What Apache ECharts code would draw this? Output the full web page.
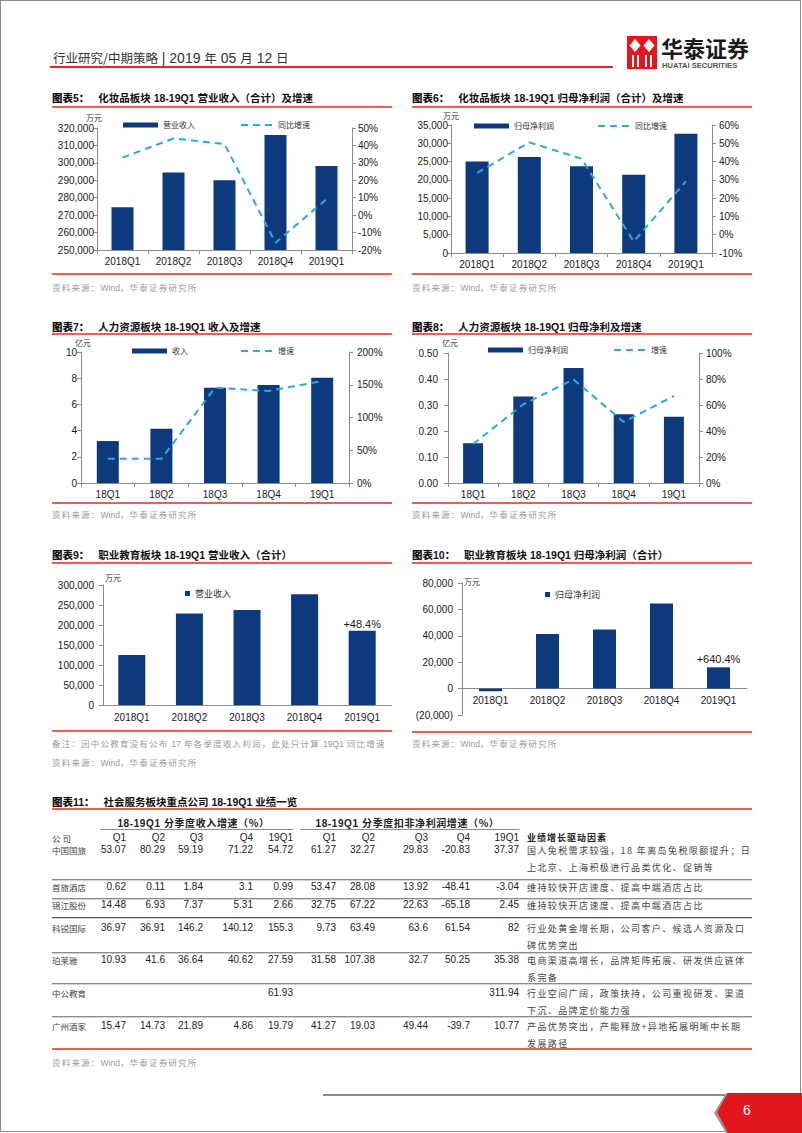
<!DOCTYPE html>
<html lang="zh-CN">
<head>
<meta charset="utf-8">
<title>社会服务板块 18-19Q1 业绩</title>
<script src="https://cdn.jsdelivr.net/npm/echarts@6.0.0/dist/echarts.min.js"></script>
<style>
  html, body { margin: 0; padding: 0; background: #fff; }
  body { position: relative; width: 802px; height: 1133px; overflow: hidden;
         font-family: 'Liberation Sans', 'Noto Sans CJK SC', sans-serif; color: #222; }
  .abs { position: absolute; white-space: nowrap; }
  .cjk { font-family: 'Noto Sans CJK SC', sans-serif; }
  .ttl { position: absolute; font-size: 10.5px; font-weight: bold; line-height: 14px; white-space: nowrap; color: #111; }
  .ttl b { margin-right: 6px; }
  .rule { position: absolute; height: 1.5px; background: #e8604f; }
  .src { position: absolute; font-family: 'Noto Sans CJK SC', sans-serif; font-size: 8.5px; line-height: 10px;
         color: #9a9a9a; letter-spacing: 1.2px; white-space: nowrap; }
  .src span { font-family: 'Liberation Sans', sans-serif; letter-spacing: 0; }
  .chart { position: absolute; }
</style>
</head>
<body>

<!-- 页面边框 -->
<div class="abs" style="left:0;top:0;width:801px;height:1132px;border:1px solid #8c8c8c;box-sizing:border-box"></div>

<!-- 页眉 -->
<div class="abs" style="left:53px;top:50px;font-size:14px;line-height:16px;color:#333">
  <span class="cjk" style="font-size:12.5px">行业研究/中期策略</span> | 2019 <span class="cjk" style="font-size:12.5px">年</span> 05 <span class="cjk" style="font-size:12.5px">月</span> 12 <span class="cjk" style="font-size:12.5px">日</span>
</div>
<div class="abs" style="left:50px;top:66px;width:563px;height:2px;background:#e3262a"></div>
<svg class="abs" style="left:627px;top:36px" width="30" height="33" viewBox="0 0 30 33">
  <rect width="30" height="33" fill="#e3161e"/>
  <path d="M8 3 L13.5 9.5 L8 16 L2.5 9.5Z" fill="#fff"/>
  <path d="M22 3 L27.5 9.5 L22 16 L16.5 9.5Z" fill="#fff"/>
  <rect x="5" y="19" width="2" height="12" fill="#fff"/>
  <rect x="10" y="19" width="2" height="12" fill="#fff"/>
  <rect x="18" y="19" width="2" height="12" fill="#fff"/>
  <rect x="23" y="19" width="2" height="12" fill="#fff"/>
</svg>
<div class="abs cjk" style="left:661px;top:36px;font-size:22px;line-height:22px;font-weight:bold;color:#1a1a1a">华泰证券</div>
<div class="abs" style="left:662px;top:61px;font-size:7.6px;line-height:9px;font-weight:bold;color:#555">HUATAI SECURITIES</div>

<!-- 图表标题 -->
<div class="ttl" style="left:52px;top:91px"><b>图表5：</b> 化妆品板块 18-19Q1 营业收入（合计）及增速</div>
<div class="ttl" style="left:412px;top:91px"><b>图表6：</b> 化妆品板块 18-19Q1 归母净利润（合计）及增速</div>
<div class="ttl" style="left:52px;top:320px"><b>图表7：</b> 人力资源板块 18-19Q1 收入及增速</div>
<div class="ttl" style="left:412px;top:320px"><b>图表8：</b> 人力资源板块 18-19Q1 归母净利及增速</div>
<div class="ttl" style="left:52px;top:548px"><b>图表9：</b> 职业教育板块 18-19Q1 营业收入（合计）</div>
<div class="ttl" style="left:412px;top:548px"><b>图表10：</b> 职业教育板块 18-19Q1 归母净利润（合计）</div>
<div class="ttl" style="left:52px;top:795px"><b>图表11：</b> 社会服务板块重点公司 18-19Q1 业绩一览</div>

<div class="rule" style="left:52px;top:106px;width:340px"></div>
<div class="rule" style="left:412px;top:106px;width:340px"></div>
<div class="rule" style="left:52px;top:273px;width:340px"></div>
<div class="rule" style="left:412px;top:273px;width:340px"></div>
<div class="rule" style="left:52px;top:333px;width:340px"></div>
<div class="rule" style="left:412px;top:333px;width:340px"></div>
<div class="rule" style="left:52px;top:502px;width:340px"></div>
<div class="rule" style="left:412px;top:502px;width:340px"></div>
<div class="rule" style="left:52px;top:562px;width:340px"></div>
<div class="rule" style="left:412px;top:562px;width:340px"></div>
<div class="rule" style="left:52px;top:730px;width:340px"></div>
<div class="rule" style="left:412px;top:731px;width:340px"></div>
<div class="rule" style="left:52px;top:808px;width:700px"></div>
<div class="rule" style="left:52px;top:1048px;width:700px"></div>

<div class="src" style="left:52px;top:282px">资料来源：<span>Wind</span>，华泰证券研究所</div>
<div class="src" style="left:412px;top:282px">资料来源：<span>Wind</span>，华泰证券研究所</div>
<div class="src" style="left:52px;top:509px">资料来源：<span>Wind</span>，华泰证券研究所</div>
<div class="src" style="left:412px;top:509px">资料来源：<span>Wind</span>，华泰证券研究所</div>
<div class="src" style="left:52px;top:738px">备注：因中公教育没有公布 <span>17</span> 年各季度收入利润，此处只计算 <span>19Q1</span> 同比增速</div>
<div class="src" style="left:52px;top:757px">资料来源：<span>Wind</span>，华泰证券研究所</div>
<div class="src" style="left:412px;top:738px">资料来源：<span>Wind</span>，华泰证券研究所</div>
<div class="src" style="left:52px;top:1057px">资料来源：<span>Wind</span>，华泰证券研究所</div>

<!-- 图表容器 -->
<div class="chart" id="chart5" style="left:40px;top:110px;width:360px;height:160px"></div>
<div class="chart" id="chart6" style="left:400px;top:110px;width:400px;height:160px"></div>
<div class="chart" id="chart7" style="left:40px;top:336px;width:360px;height:165px"></div>
<div class="chart" id="chart8" style="left:400px;top:336px;width:400px;height:165px"></div>
<div class="chart" id="chart9" style="left:40px;top:565px;width:360px;height:165px"></div>
<div class="chart" id="chart10" style="left:400px;top:565px;width:400px;height:165px"></div>

<!-- 页脚 -->
<div class="abs" style="left:323px;top:1094px;width:402px;height:2px;background:#8a8a8a"></div>
<div class="abs" style="left:712px;top:1093px;width:90px;height:40px;background:#9a9a9a;clip-path:polygon(14px 0,90px 0,90px 40px,14px 40px,2px 20px)"></div>
<div class="abs" style="left:716px;top:1093px;width:86px;height:40px;background:#e3161e;clip-path:polygon(12px 0,86px 0,86px 40px,12px 40px,1px 19px)"></div>
<div class="abs" style="left:743px;top:1101px;font-size:14px;line-height:18px;color:#fff">6</div>

<script>
// ---------------- 数据 ----------------
// 图表5/6 化妆品板块
const cosmeticQuarters = ['2018Q1', '2018Q2', '2018Q3', '2018Q4', '2019Q1']
const cosmeticRevenue = [274500, 294400, 290000, 316000, 298200] // 万元
const cosmeticRevenueGrowth = [33.0, 44.0, 40.8, -15.8, 9.1] // %
const cosmeticProfit = [25050, 26250, 23700, 21400, 32600] // 万元
const cosmeticProfitGrowth = [33.8, 50.5, 41.6, -3.7, 29.2] // %

// 图表7/8 人力资源板块
const hrQuarters = ['18Q1', '18Q2', '18Q3', '18Q4', '19Q1']
const hrRevenue = [3.2, 4.15, 7.27, 7.48, 8.04] // 亿元
const hrRevenueGrowth = [37, 37, 145.5, 140.5, 155.7] // %
const hrProfit = [0.153, 0.333, 0.442, 0.264, 0.255] // 亿元
const hrProfitGrowth = [30, 60.5, 79.7, 47, 67] // %

// 图表9/10 职业教育板块
const eduQuarters = ['2018Q1', '2018Q2', '2018Q3', '2018Q4', '2019Q1']
const eduRevenue = [125000, 229000, 237500, 276700, 185800] // 万元
const eduRevenueNote = '+48.4%'
const eduProfit = [-2000, 41400, 44700, 64400, 16100] // 万元
const eduProfitNote = '+640.4%'

// 坐标轴刻度 [min, max, interval]
const cosmeticRevenueTicks = [250000, 320000, 10000]
const cosmeticRevenueGrowthTicks = [-20, 50, 10]
const cosmeticProfitTicks = [0, 35000, 5000]
const cosmeticProfitGrowthTicks = [-10, 60, 10]
const hrRevenueTicks = [0, 10, 2]
const hrRevenueGrowthTicks = [0, 200, 50]
const hrProfitTicks = [0, 0.5, 0.1]
const hrProfitGrowthTicks = [0, 100, 20]
const eduRevenueTicks = [0, 300000, 50000]
const eduProfitTicks = [-20000, 80000, 20000]

// 图表11 重点公司
const companies = ['中国国旅', '首旅酒店', '锦江股份', '科锐国际', '珀莱雅', '中公教育', '广州酒家']
const quarterHeads = ['Q1', 'Q2', 'Q3', 'Q4', '19Q1']
const revGrowth = [
  [53.07, 80.29, 59.19, 71.22, 54.72],
  [0.62, 0.11, 1.84, 3.1, 0.99],
  [14.48, 6.93, 7.37, 5.31, 2.66],
  [36.97, 36.91, 146.2, 140.12, 155.3],
  [10.93, 41.6, 36.64, 40.62, 27.59],
  [null, null, null, null, 61.93],
  [15.47, 14.73, 21.89, 4.86, 19.79]
]
const profitGrowth = [
  [61.27, 32.27, 29.83, -20.83, 37.37],
  [53.47, 28.08, 13.92, -48.41, -3.04],
  [32.75, 67.22, 22.63, -65.18, 2.45],
  [9.73, 63.49, 63.6, 61.54, 82],
  [31.58, 107.38, 32.7, 50.25, 35.38],
  [null, null, null, null, 311.94],
  [41.27, 19.03, 49.44, -39.7, 10.77]
]
const drivers = [
  ['国人免税需求较强，18 年离岛免税限额提升；日', '上北京、上海积极进行品类优化、促销等'],
  ['维持较快开店速度、提高中端酒店占比'],
  ['维持较快开店速度、提高中端酒店占比'],
  ['行业处黄金增长期，公司客户、候选人资源及口', '碑优势突出'],
  ['电商渠道高增长，品牌矩阵拓展、研发供应链体', '系完备'],
  ['行业空间广阔，政策扶持，公司重视研发、渠道', '下沉、品牌定价能力强'],
  ['产品优势突出，产能释放+异地拓展明晰中长期', '发展路径']
]

// ---------------- 样式常量 ----------------
const NUM_FONT = 'Liberation Sans'
const CJK_FONT = 'Noto Sans CJK SC'
const BAR_COLOR = '#0c3a7d'
const LINE_COLOR = '#2ea7df'
const AXIS_COLOR = '#8c8c8c'
const LABEL_COLOR = '#1a1a1a'

// 千分位，负数用括号
function thousands (v) {
  const s = String(Math.abs(v)).replace(/\B(?=(\d{3})+(?!\d))/g, ',')
  return v < 0 ? '(' + s + ')' : s
}

function valueAxis (ticks, formatter, margin) {
  return {
    type: 'value',
    min: ticks[0],
    max: ticks[1],
    interval: ticks[2],
    splitLine: { show: false },
    axisLine: { show: true, lineStyle: { color: AXIS_COLOR } },
    axisTick: { show: true, length: 4, lineStyle: { color: AXIS_COLOR } },
    axisLabel: { margin: margin, formatter: formatter, fontFamily: NUM_FONT, fontSize: 10, color: LABEL_COLOR }
  }
}

function unitText (text, pos) {
  return {
    type: 'text',
    left: pos[0],
    top: pos[1],
    style: { text: text, fontFamily: CJK_FONT, fontSize: 8, fill: '#333' }
  }
}

// 柱 + 虚线双轴图
function dualChart (id, cfg) {
  const chart = echarts.init(document.getElementById(id), null, { renderer: 'svg' })
  const legendText = { fontFamily: CJK_FONT, fontSize: 8, color: '#333' }
  chart.setOption({
    animation: false,
    grid: { left: cfg.grid[0], right: cfg.grid[1], top: cfg.grid[2], bottom: cfg.grid[3], containLabel: false, outerBoundsMode: 'none' },
    legend: [
      { data: [cfg.barName], left: cfg.legend[0], top: cfg.legend[2], padding: 0, icon: 'rect', itemWidth: 35, itemHeight: 5, textStyle: legendText },
      {
        // 图例只画虚线，不画圆点
        data: [{
          name: cfg.lineName,
          lineStyle: { type: [7, 5], width: 2, color: LINE_COLOR },
          itemStyle: { color: 'rgba(0,0,0,0)', borderWidth: 0 }
        }],
        left: cfg.legend[1], top: cfg.legend[2], padding: 0, itemWidth: 32, itemHeight: 5, textStyle: legendText
      }
    ],
    xAxis: {
      type: 'category',
      data: cfg.categories,
      axisLine: { onZero: false, lineStyle: { color: AXIS_COLOR } },
      axisTick: { show: true, length: 4, lineStyle: { color: AXIS_COLOR } },
      axisLabel: { margin: 6, fontFamily: NUM_FONT, fontSize: 10, color: LABEL_COLOR }
    },
    yAxis: [
      valueAxis(cfg.leftTicks, cfg.leftFormat, cfg.leftMargin),
      valueAxis(cfg.rightTicks, v => v + '%', cfg.rightMargin)
    ],
    series: [
      { name: cfg.barName, type: 'bar', data: cfg.bars, barWidth: cfg.barWidth, itemStyle: { color: BAR_COLOR } },
      {
        name: cfg.lineName,
        type: 'line',
        yAxisIndex: 1,
        data: cfg.line,
        symbol: 'none',
        lineStyle: { color: LINE_COLOR, width: 2, type: [7, 5] },
        itemStyle: { color: LINE_COLOR }
      }
    ],
    graphic: [unitText(cfg.unit, cfg.unitPos)]
  })
}

// 单柱图，最后一根柱上标同比增速
function singleChart (id, cfg, height) {
  const chart = echarts.init(document.getElementById(id), null, { renderer: 'svg' })
  const last = cfg.bars.length - 1
  // 横轴放在 0 处（连同标签一起）
  const plotHeight = height - cfg.grid[2] - cfg.grid[3]
  const zeroOffset = cfg.ticks[0] < 0 ? -plotHeight * (-cfg.ticks[0]) / (cfg.ticks[1] - cfg.ticks[0]) : 0
  chart.setOption({
    animation: false,
    grid: { left: cfg.grid[0], right: cfg.grid[1], top: cfg.grid[2], bottom: cfg.grid[3], containLabel: false, outerBoundsMode: 'none' },
    legend: {
      data: [cfg.barName], left: cfg.legend[0], top: cfg.legend[1], padding: 0,
      icon: 'rect', itemWidth: 5, itemHeight: 5, itemGap: 0,
      textStyle: { fontFamily: CJK_FONT, fontSize: 9, color: '#333' }
    },
    xAxis: {
      type: 'category',
      data: cfg.categories,
      offset: zeroOffset,
      axisLine: { onZero: false, lineStyle: { color: AXIS_COLOR } },
      axisTick: { show: false },
      axisLabel: { margin: 7, fontFamily: NUM_FONT, fontSize: 10, color: LABEL_COLOR }
    },
    yAxis: valueAxis(cfg.ticks, thousands, 9),
    series: [{
      name: cfg.barName,
      type: 'bar',
      barWidth: cfg.barWidth,
      itemStyle: { color: BAR_COLOR },
      data: cfg.bars.map((v, i) => i === last
        ? { value: v, label: { show: true, position: 'top', distance: cfg.noteGap, formatter: cfg.note, fontFamily: NUM_FONT, fontSize: 11, color: '#1a1a1a' } }
        : v)
    }],
    graphic: [unitText('万元', cfg.unitPos)]
  })
}

dualChart('chart5', {
  categories: cosmeticQuarters, bars: cosmeticRevenue, line: cosmeticRevenueGrowth,
  barName: '营业收入', lineName: '同比增速', unit: '万元',
  leftTicks: cosmeticRevenueTicks, rightTicks: cosmeticRevenueGrowthTicks,
  leftFormat: thousands, leftMargin: 3, rightMargin: 6,
  grid: [57, 48, 18, 20], legend: [83, 200, 11], unitPos: [46, 3], barWidth: 22
})

dualChart('chart6', {
  categories: cosmeticQuarters, bars: cosmeticProfit, line: cosmeticProfitGrowth,
  barName: '归母净利润', lineName: '同比增速', unit: '万元',
  leftTicks: cosmeticProfitTicks, rightTicks: cosmeticProfitGrowthTicks,
  leftFormat: thousands, leftMargin: 3, rightMargin: 7,
  grid: [51, 88, 15, 17], legend: [74, 197, 12], unitPos: [43, 1], barWidth: 23
})

dualChart('chart7', {
  categories: hrQuarters, bars: hrRevenue, line: hrRevenueGrowth,
  barName: '收入', lineName: '增速', unit: '亿元',
  leftTicks: hrRevenueTicks, rightTicks: hrRevenueGrowthTicks,
  leftFormat: v => String(v), leftMargin: 4, rightMargin: 8,
  grid: [41, 51, 16, 18], legend: [92, 200, 11], unitPos: [35, 2], barWidth: 22
})

dualChart('chart8', {
  categories: hrQuarters, bars: hrProfit, line: hrProfitGrowth,
  barName: '归母净利润', lineName: '增速', unit: '亿元',
  leftTicks: hrProfitTicks, rightTicks: hrProfitGrowthTicks,
  leftFormat: v => v.toFixed(2), leftMargin: 10, rightMargin: 7,
  grid: [48, 101, 17, 18], legend: [88, 213, 10], unitPos: [42, 2], barWidth: 20
})

singleChart('chart9', {
  categories: eduQuarters, bars: eduRevenue, ticks: eduRevenueTicks,
  barName: '营业收入', note: eduRevenueNote, noteGap: 1,
  grid: [63, 9, 20, 25], legend: [145, 24], unitPos: [65, 8], barWidth: 27
}, 165)

singleChart('chart10', {
  categories: eduQuarters, bars: eduProfit, ticks: eduProfitTicks,
  barName: '归母净利润', note: eduProfitNote, noteGap: 3,
  grid: [62, 53, 18, 15], legend: [145, 25], unitPos: [64, 12], barWidth: 23
}, 165)

// ---------------- 表格 ----------------
const numRight = [126, 165, 203, 253, 293, 336, 375, 428, 470, 519] // 各数值列右边界
const rowY = [850, 887, 905, 928, 960, 993, 1026] // 每行首行文字中心
const sepY = [879, 898, 917, 952, 983, 1016]

function put (html, css) {
  const d = document.createElement('div')
  d.className = 'abs'
  d.style.cssText = css
  d.innerHTML = html
  document.body.appendChild(d)
}

// 分组表头
put('18-19Q1 <span class="cjk">分季度收入增速（%）</span>',
  'left:94px;top:816px;width:199px;text-align:center;font-size:10px;line-height:14px;font-weight:bold;letter-spacing:0.6px')
put('18-19Q1 <span class="cjk">分季度扣非净利润增速（%）</span>',
  'left:296px;top:816px;width:223px;text-align:center;font-size:10px;line-height:14px;font-weight:bold;letter-spacing:0.6px')
put('', 'left:100px;top:829px;width:193px;height:1px;background:#8c8c8c')
put('', 'left:300px;top:829px;width:219px;height:1px;background:#8c8c8c')

// 列标题
put('公司', 'left:52px;top:831px;font-family:' + CJK_FONT + ';font-size:8.5px;line-height:14px;color:#444;letter-spacing:2px')
quarterHeads.concat(quarterHeads).forEach((h, i) => {
  put(h, `left:${numRight[i] - 50}px;top:831px;width:50px;text-align:right;font-size:10px;line-height:14px`)
})
put('业绩增长驱动因素', 'left:527px;top:831px;font-family:' + CJK_FONT + ';font-size:9px;line-height:14px;font-weight:bold;letter-spacing:1px')

companies.forEach((name, r) => {
  const y = rowY[r]
  put(name, `left:52px;top:${y - 7}px;font-family:${CJK_FONT};font-size:8.5px;line-height:14px;color:#444`)
  revGrowth[r].concat(profitGrowth[r]).forEach((v, c) => {
    if (v === null) return
    put(String(v), `left:${numRight[c] - 50}px;top:${y - 7}px;width:50px;text-align:right;font-size:10px;line-height:14px`)
  })
  put(drivers[r].join('<br>'),
    `left:527px;top:${y - 8.5}px;font-family:${CJK_FONT};font-size:9px;line-height:17px;letter-spacing:1.4px;color:#444`)
})

sepY.forEach((y, i) => {
  const dark = i === 2
  put('', `left:52px;top:${y}px;width:700px;height:1px;background:${dark ? '#555' : '#8c8c8c'};box-shadow:0 1px 0 #d4d4d4`)
})
</script>
</body>
</html>
